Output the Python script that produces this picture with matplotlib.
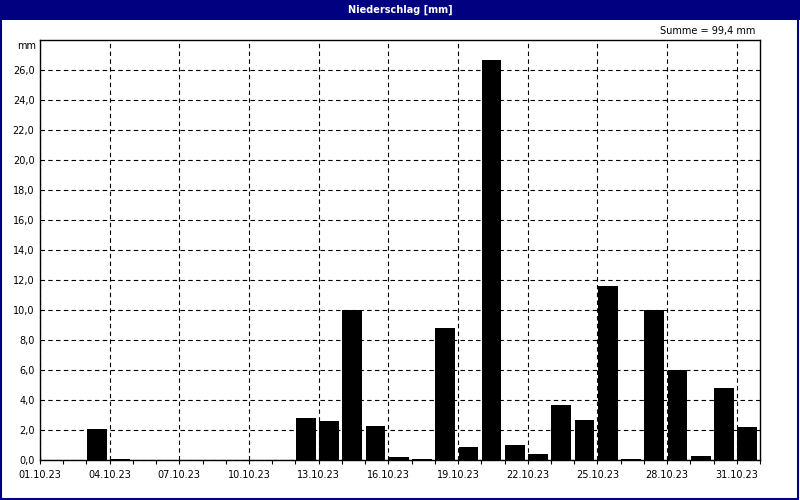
import numpy as np
import matplotlib
matplotlib.use('Agg')
from matplotlib import pyplot as plt
from matplotlib.patches import Rectangle
from matplotlib.ticker import FixedLocator, FuncFormatter

# daily precipitation October 2023 (mm), day 1..31
days = list(range(1, 32))
rain = [0.0, 0.0, 2.1, 0.1, 0.0, 0.0, 0.0, 0.0, 0.0, 0.0,
        0.0, 2.8, 2.6, 10.0, 2.3, 0.2, 0.1, 8.8, 0.9, 26.7,
        1.0, 0.4, 3.7, 2.7, 11.6, 0.05, 10.0, 6.0, 0.3, 4.8,
        2.2]
label_days = list(range(1, 32, 3))
title = 'Niederschlag [mm]'
total = 'Summe = 99,4 mm'

navy = '#000080'
plt.rcParams['font.family'] = 'DejaVu Sans'

fig = plt.figure(figsize=(8, 5), dpi=100)
fig.patch.set_facecolor('white')

# title bar and outer frame
fig.patches.append(Rectangle((0, 480/500), 1, 20/500, transform=fig.transFigure,
                             facecolor=navy, edgecolor='none', zorder=0))
fig.patches.append(Rectangle((0.001, 0.002), 0.997, 0.996, transform=fig.transFigure,
                             facecolor='none', edgecolor=navy, linewidth=1.5, zorder=1))
fig.text(0.5, 490/500, title, color='white', fontsize=7, fontweight='bold',
         ha='center', va='center')
fig.text(755/800, 1 - 31/500, total, fontsize=7, ha='right', va='center')

ax = fig.add_axes([40/800, 40/500, 720/800, 420/500])
ax.bar(np.array(days) + 0.02, rain, width=0.85, align='edge', color='black', zorder=3)

ax.set_xlim(1, 32)
ax.set_ylim(0, 28)
ax.xaxis.set_major_locator(FixedLocator(label_days))
ax.xaxis.set_minor_locator(FixedLocator(days + [32]))
ax.xaxis.set_major_formatter(FuncFormatter(lambda v, p: f'{int(v):02d}.10.23'))
ax.yaxis.set_major_locator(FixedLocator(np.arange(0, 27, 2)))
ax.yaxis.set_major_formatter(FuncFormatter(lambda v, p: f'{v:.1f}'.replace('.', ',')))

ax.tick_params(axis='both', labelsize=7, direction='out', length=3, width=0.8, pad=4)
ax.tick_params(axis='x', which='minor', length=3, width=0.8)
ax.tick_params(axis='y', length=0, pad=4)
ax.grid(True, which='major', color='black', linestyle=(0, (4, 3)), linewidth=0.8, zorder=1)
for s in ax.spines.values():
    s.set_linewidth(1)
    s.set_color('black')

ax.text(-0.006, 1 - 6/420, 'mm', transform=ax.transAxes, fontsize=7, ha='right', va='center')

fig.savefig('out.png', dpi=100, facecolor='white')
